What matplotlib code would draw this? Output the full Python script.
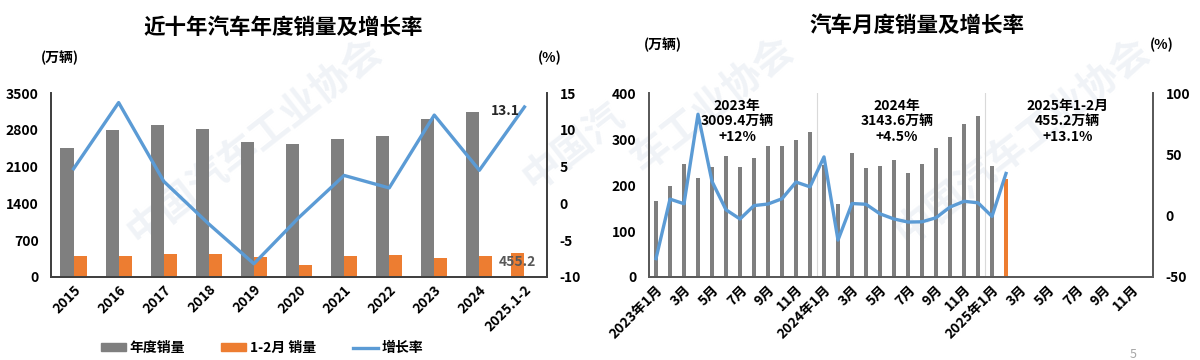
import numpy as np
import matplotlib
matplotlib.use("Agg")
import matplotlib.pyplot as plt
from matplotlib.lines import Line2D
from matplotlib.patches import Patch

plt.rcParams['font.family'] = ['Noto Sans CJK SC', 'DejaVu Sans']
plt.rcParams['font.weight'] = 'bold'
plt.rcParams['axes.unicode_minus'] = False

GRAY = '#7f7f7f'
ORANGE = '#ed7d31'
BLUE = '#5b9bd5'

# ---- left chart: annual sales ----
years = ['2015', '2016', '2017', '2018', '2019', '2020', '2021', '2022',
         '2023', '2024', '2025.1-2']
annual_sales = [2460, 2803, 2888, 2808, 2577, 2531, 2628, 2686, 3009, 3144, np.nan]
janfeb_sales = [401, 405, 438, 439, 378, 224, 396, 413, 361, 403, 455.2]
annual_growth = [4.7, 13.7, 3.0, -2.8, -8.2, -1.9, 3.8, 2.1, 12.0, 4.5, 13.1]

# ---- right chart: monthly sales ----
month_labels = ['2023年1月', '3月', '5月', '7月', '9月', '11月',
                '2024年1月', '3月', '5月', '7月', '9月', '11月',
                '2025年1月', '3月', '5月', '7月', '9月', '11月']
monthly_sales = [164.9, 197.6, 245.1, 216.0, 238.2, 262.2, 238.7, 258.2, 285.8, 285.3, 297.0, 315.6,
                 243.9, 158.4, 269.4, 235.9, 241.7, 255.3, 226.2, 245.3, 280.9, 305.3, 331.7, 349.6,
                 242.3, 212.9]
monthly_growth = [-35.0, 13.5, 9.7, 82.7, 27.9, 4.8, -2.7, 8.2, 9.5, 13.8, 27.4, 23.5,
                  47.9, -19.9, 9.9, 9.3, 1.5, -2.7, -5.2, -5.0, -1.7, 7.0, 11.7, 10.5,
                  -0.6, 34.4]
n_months = 36
year_notes = ['2023年\n3009.4万辆\n+12%', '2024年\n3143.6万辆\n+4.5%',
              '2025年1-2月\n455.2万辆\n+13.1%']

fig = plt.figure(figsize=(12, 3.6), dpi=100)
W, H = 1200, 360

# faint watermark
for x, y, s in [(0.10, 0.30, '中国汽车工业协会'), (0.43, 0.45, '中国汽'),
                (0.52, 0.50, '车工业协会'), (0.74, 0.30, '中国汽车工业协会')]:
    fig.text(x, y, s, fontsize=28, color='#f0f3f7', rotation=38, zorder=-5,
             ha='left', va='bottom')

bottom = 1 - 277 / H
height = 184 / H

# ===== left chart =====
ax1 = fig.add_axes([51 / W, bottom, (547 - 51) / W, height])
ax1.patch.set_visible(False)
x = np.arange(len(years))
w = 0.29
a = np.array(annual_sales, dtype=float)
jf = np.array(janfeb_sales, dtype=float)
ax1.bar(x - w / 2, a, w, color=GRAY, zorder=2)
# the last period has no annual bar, its jan-feb bar takes the first slot
jf_pos = np.where(np.isnan(a), x - w / 2, x + w / 2)
ax1.bar(jf_pos, jf, w, color=ORANGE, zorder=2)
ax1.set_xlim(-0.5, len(years) - 0.5)
ax1.set_ylim(0, 3500)
ax1.set_yticks([0, 700, 1400, 2100, 2800, 3500])
ax1.set_xticks(x)
ax1.set_xticklabels(years, rotation=45, ha='right', rotation_mode='anchor')
ax1.text(jf_pos[-1], 290, f'{jf[-1]:.1f}', ha='center', va='center',
         fontsize=10, color='#595959', zorder=4)

ax2 = ax1.twinx()
ax2.plot(x, annual_growth, color=BLUE, lw=2.4, zorder=3)
ax2.set_ylim(-10, 15)
ax2.set_yticks([-10, -5, 0, 5, 10, 15])
ax2.text(x[-1] - 0.1, annual_growth[-1] - 0.6, f'{annual_growth[-1]:.1f}',
         ha='right', va='center', fontsize=10, color='#262626')

for ax in (ax1, ax2):
    ax.spines['top'].set_visible(False)
    for sp in ('left', 'right', 'bottom'):
        ax.spines[sp].set_color('#404040')
        ax.spines[sp].set_linewidth(1.3)
    ax.tick_params(length=0, labelsize=10, pad=9)
ax1.tick_params(axis='x', pad=4)

fig.text(283 / W, 1 - 28 / H, '近十年汽车年度销量及增长率', ha='center', va='center',
         fontsize=15.5, fontweight='bold')
fig.text(60 / W, 1 - 58 / H, '(万辆)', ha='center', va='center', fontsize=10)
fig.text(550 / W, 1 - 58 / H, '(%)', ha='center', va='center', fontsize=10)

handles = [Patch(color=GRAY), Patch(color=ORANGE), Line2D([], [], color=BLUE, lw=2.4)]
fig.legend(handles, ['年度销量', '1-2月 销量', '增长率'], loc='center',
           bbox_to_anchor=(262 / W, 1 - 348 / H), ncol=3, frameon=False,
           fontsize=10, handlelength=1.8, handleheight=0.45, columnspacing=2.6,
           handletextpad=0.3)

# ===== right chart =====
ax3 = fig.add_axes([649 / W, bottom, (1153 - 649) / W, height])
ax3.patch.set_visible(False)
mx = np.arange(len(monthly_sales))
colors = [GRAY] * (len(monthly_sales) - 1) + [ORANGE]
ax3.bar(mx, monthly_sales, 0.32, color=colors, zorder=2)
ax3.set_xlim(-0.5, n_months - 0.5)
ax3.set_ylim(0, 400)
ax3.set_yticks([0, 100, 200, 300, 400])
ax3.set_xticks(np.arange(0, n_months, 2))
ax3.set_xticklabels(month_labels, rotation=45, ha='right', rotation_mode='anchor')
for sep in (11.5, 23.5):
    ax3.axvline(sep, color='#d9d9d9', lw=0.8, zorder=1)
for cx, note in zip([5.8, 17.2, 29.4], year_notes):
    ax3.text(cx, 388, note, ha='center', va='top', fontsize=10, linespacing=1.15)

ax4 = ax3.twinx()
ax4.plot(mx, monthly_growth, color=BLUE, lw=2.4, zorder=3)
ax4.set_ylim(-50, 100)
ax4.set_yticks([-50, 0, 50, 100])

for ax in (ax3, ax4):
    ax.spines['top'].set_visible(False)
    for sp in ('left', 'right', 'bottom'):
        ax.spines[sp].set_color('#595959')
        ax.spines[sp].set_linewidth(1.3)
    ax.tick_params(length=0, labelsize=10, pad=9)
ax3.tick_params(axis='x', pad=4)

fig.text(917 / W, 1 - 25 / H, '汽车月度销量及增长率', ha='center', va='center',
         fontsize=15.5, fontweight='bold')
fig.text(663 / W, 1 - 45 / H, '(万辆)', ha='center', va='center', fontsize=10)
fig.text(1162 / W, 1 - 45 / H, '(%)', ha='center', va='center', fontsize=10)
fig.text(1133 / W, 1 - 354 / H, '5', ha='center', va='center', fontsize=9,
         color='#a6a6a6', fontweight='normal')

fig.savefig('out.png', dpi=100, facecolor='white')
